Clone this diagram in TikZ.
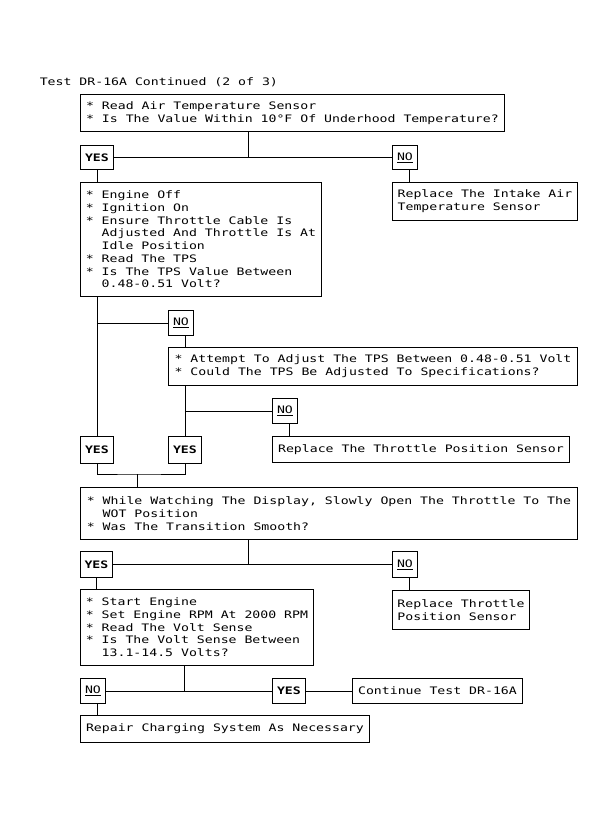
\documentclass[tikz,border=0pt]{standalone}
\usepackage{fontspec}
\setmonofont[FakeStretch=1.28]{DejaVu Sans Mono}
\usepackage{tikz}

\newcommand{\ind}{\hphantom{*\ }}

\begin{document}
\begin{tikzpicture}[
		x=1pt, y=-1pt,
		line width=0.9pt,
		every node/.style={font=\ttfamily\fontsize{10.3}{12.7}\selectfont},
		txtbox/.style={rectangle, draw, anchor=north west, align=left, inner sep=0pt},
		yesbox/.style={txtbox, align=center, minimum width=33pt, font=\ttfamily\bfseries\fontsize{10.3}{12.7}\selectfont},
		nobox/.style={txtbox, align=center, minimum width=25pt}
	]
  \useasboundingbox (0, 0) rectangle (615, 817);
  \node (title) [anchor=base west] at (36, 85) {Test DR-16A Continued (2 of 3)};
  \node (read_air) [txtbox, minimum width=424pt, minimum height=37pt] at (80, 94) {* Read Air Temperature Sensor\\* Is The Value Within 10°F Of Underhood Temperature?};
  \node (yes_1) [yesbox, minimum height=24pt] at (80, 145) {YES};
  \node (no_1) [nobox, minimum height=24pt] at (392, 145) {\underline{NO}};
  \node (replace_iat) [txtbox, minimum width=185pt, minimum height=38pt] at (392, 182) {Replace The Intake Air\\Temperature Sensor};
  \node (engine_off) [txtbox, minimum width=241pt, minimum height=114pt] at (80, 182) {* Engine Off\\* Ignition On\\* Ensure Throttle Cable Is\\\ind Adjusted And Throttle Is At\\\ind Idle Position\\* Read The TPS\\* Is The TPS Value Between\\\ind 0.48-0.51 Volt?};
  \node (no_2) [nobox, minimum height=25pt] at (168, 310) {\underline{NO}};
  \node (adjust_tps) [txtbox, minimum width=409pt, minimum height=38pt] at (168, 347) {* Attempt To Adjust The TPS Between 0.48-0.51 Volt\\* Could The TPS Be Adjusted To Specifications?};
  \node (no_3) [nobox, minimum height=25pt] at (272, 398) {\underline{NO}};
  \node (replace_tps) [txtbox, minimum width=297pt, minimum height=26pt] at (272, 436) {Replace The Throttle Position Sensor};
  \node (yes_2) [yesbox, minimum height=27pt] at (80, 436) {YES};
  \node (yes_3) [yesbox, minimum height=27pt] at (168, 436) {YES};
  \node (watch_wot) [txtbox, minimum width=497pt, minimum height=52pt] at (80, 487) {* While Watching The Display, Slowly Open The Throttle To The\\\ind WOT Position\\* Was The Transition Smooth?};
  \node (yes_4) [yesbox, minimum width=32pt, minimum height=26pt] at (80, 551) {YES};
  \node (no_4) [nobox, minimum height=26pt] at (392, 551) {\underline{NO}};
  \node (replace_tp) [txtbox, minimum width=137pt, minimum height=39pt] at (392, 590) {Replace Throttle\\Position Sensor};
  \node (start_eng) [txtbox, minimum width=233pt, minimum height=76pt] at (80, 589) {* Start Engine\\* Set Engine RPM At 2000 RPM\\* Read The Volt Sense\\* Is The Volt Sense Between\\\ind 13.1-14.5 Volts?};
  \node (no_5) [nobox, minimum height=25pt] at (80, 678) {\underline{NO}};
  \node (yes_5) [yesbox, minimum height=25pt] at (272, 678) {YES};
  \node (cont_test) [txtbox, minimum width=170pt, minimum height=25pt] at (352, 678) {Continue Test DR-16A};
  \node (repair) [txtbox, minimum width=289pt, minimum height=27pt] at (80, 715) {Repair Charging System As Necessary};
  % junctions
  \coordinate (j_1) at (248, 157);
  \coordinate (j_2) at (yes_2 |- no_2);
  \coordinate (j_3) at (yes_3 |- no_3);
  \coordinate (j_4) at (137, 474);
  \coordinate (j_5) at (248, 564);
  \coordinate (j_6) at (184, 690.5);
  \draw (j_1 |- read_air.south) -- (j_1);
  \draw (yes_1) -- (no_1);
  \draw (yes_1) -- (yes_1 |- engine_off.north);
  \draw ([xshift=4pt]no_1.south) coordinate (n_1) -- (n_1 |- replace_iat.north);
  \draw (engine_off.south -| yes_2) -- (yes_2);
  \draw (j_2) -- (no_2);
  \draw ([xshift=4pt]no_2.south) coordinate (n_2) -- (n_2 |- adjust_tps.north);
  \draw (adjust_tps.south -| yes_3) -- (yes_3);
  \draw (j_3) -- (no_3);
  \draw ([xshift=4pt]no_3.south) coordinate (n_3) -- (n_3 |- replace_tps.north);
  \draw (yes_2.south) |- (j_4) -| (yes_3.south);
  \draw (j_4) -- (j_4 |- watch_wot.north);
  \draw (j_5 |- watch_wot.south) -- (j_5);
  \draw (yes_4) -- (no_4);
  \draw (yes_4) -- (yes_4 |- start_eng.north);
  \draw ([xshift=4pt]no_4.south) coordinate (n_4) -- (n_4 |- replace_tp.north);
  \draw (j_6 |- start_eng.south) -- (j_6);
  \draw (no_5) -- (yes_5);
  \draw (yes_5) -- (cont_test);
  \draw ([xshift=4pt]no_5.south) coordinate (n_5) -- (n_5 |- repair.north);
\end{tikzpicture}
\end{document}
